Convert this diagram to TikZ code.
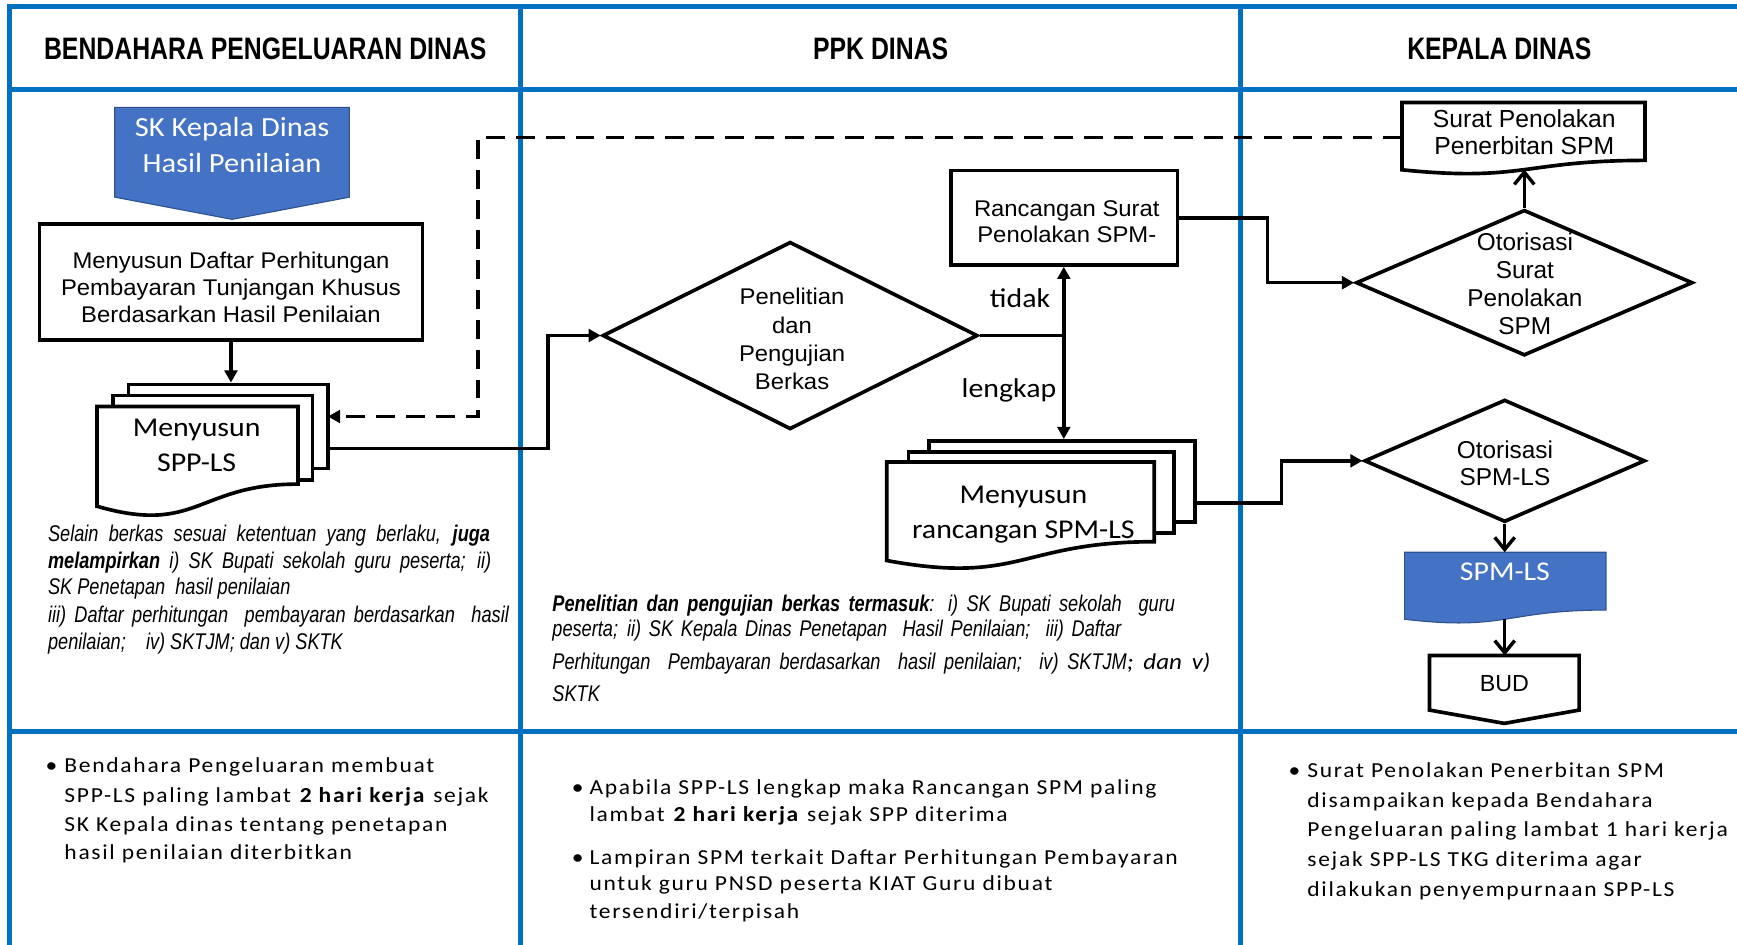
\documentclass[tikz,border=0pt]{standalone}
\usepackage{fontspec}
\setmainfont{Liberation Sans}
\usetikzlibrary{arrows.meta,shapes.geometric}

\newfontfamily\hdrfont[FakeStretch=0.8]{Liberation Sans}
\newfontfamily\boxfont[FakeStretch=1.05]{Liberation Sans}
\newfontfamily\arialfont{Liberation Sans}
\newfontfamily\notefont[FakeStretch=0.8]{Liberation Sans}
\newfontfamily\calfont[FakeStretch=1.1]{Carlito}
\newfontfamily\listfont[FakeStretch=1.1,LetterSpace=8]{Carlito}

\definecolor{laneblue}{HTML}{0070C0}
\definecolor{docblue}{HTML}{4472C4}
\definecolor{docedge}{HTML}{2F528F}

% document symbol: top-left x, top y, right x, y where the wave meets the right side, y where it meets the left side
\newcommand{\docpath}[5]{(#1,#2) -- (#3,#2) -- (#3,#4) .. controls ({(#1+#3)/2},#4) and ({(#1+#3)/2},{#5+1.31*(#5-#4)}) .. (#1,#5) -- cycle}

\begin{document}
\begin{tikzpicture}[x=1pt,y=-1pt,
  lane/.style={draw=laneblue,line width=4.5pt},
  outline/.style={draw=black,line width=3.3pt,fill=white,line join=miter},
  procbox/.style={outline,rectangle,inner sep=0pt},
  decision/.style={outline,diamond,inner sep=0pt},
  pagebox/.style={outline,rectangle,inner sep=0pt},
  flow/.style={draw=black,line width=3.1pt,-{Triangle[length=11pt,width=11.5pt]}},
  flowopen/.style={draw=black,line width=3.1pt,-{Straight Barb[length=11pt,width=18pt]}},
  feedback/.style={draw=black,line width=3.1pt,dash pattern=on 17pt off 10pt,-{Triangle[length=11pt,width=11.5pt]}},
  hdr/.style={inner sep=0pt,font=\hdrfont\bfseries\fontsize{28}{30}\selectfont},
  boxtext/.style={inner sep=0pt,align=center},
  noteline/.style={inner sep=0pt,anchor=base west,font=\notefont\itshape\fontsize{20.5}{24}\selectfont},
  listline/.style={inner sep=0pt,anchor=base west,font=\listfont\fontsize{19.3}{24}\selectfont},
]
\useasboundingbox (0,0) rectangle (1568,853);

% swimlane grid
\begin{scope}
\clip (0,0) rectangle (1568,853);
\draw[lane] (1600,6) -- (9,6) -- (9,880);
\draw[lane] (9,81) -- (1600,81);
\draw[lane] (9,660) -- (1600,660);
\draw[lane] (470,6) -- (470,880);
\draw[lane] (1120,6) -- (1120,880);
\end{scope}

\node[hdr] (h1) at (239.5,44) {BENDAHARA PENGELUARAN DINAS};
\node[hdr] (h2) at (795,44) {PPK DINAS};
\node[hdr] (h3) at (1353.5,44) {KEPALA DINAS};

% ---- Bendahara Pengeluaran Dinas ----
\filldraw[fill=docblue,draw=docedge,line width=1pt] (103.6,96.9) -- (315.4,96.9) -- (315.4,178) -- (209.5,198) -- (103.6,178) -- cycle;
\node[boxtext,text=white,font=\calfont\fontsize{25}{32.5}\selectfont] (skT) at (209.5,131) {SK Kepala Dinas\\Hasil Penilaian};

\node[procbox,minimum width=345.9pt,minimum height=104.8pt] (daftar) at (208.5,254.6) {};
\node[boxtext,font=\boxfont\fontsize{20.5}{24.4}\selectfont] (daftarT) at (208.5,259.5) {Menyusun Daftar Perhitungan\\Pembayaran Tunjangan Khusus\\Berdasarkan Hasil Penilaian};

\node[pagebox,minimum width=180pt,minimum height=76pt] (sppBack) at (206,385) {};
\node[pagebox,minimum width=180pt,minimum height=76pt] (sppMid) at (192,395) {};
\draw[outline] \docpath{87.5}{367}{269}{437}{457};
\node[boxtext,font=\calfont\fontsize{24.5}{31.7}\selectfont] (sppT) at (177.5,402) {Menyusun\\SPP-LS};
\coordinate (sppOut) at (296,404.7);
\coordinate (sppIn) at (296,376);

\node[noteline] (n1a) at (43.2,489) {\makebox[399pt][s]{Selain berkas sesuai ketentuan yang berlaku, \textbf{juga}}};
\node[noteline] (n1b) at (43.2,513) {\makebox[400pt][s]{\textbf{melampirkan} i) SK Bupati sekolah guru peserta; ii)}};
\node[noteline] (n1c) at (43.2,537) {SK Penetapan\ \ hasil penilaian};
\node[noteline] (n1d) at (43.2,562) {\makebox[416pt][s]{iii) Daftar perhitungan\ \ pembayaran berdasarkan\ \ hasil}};
\node[noteline] (n1e) at (43.2,586) {penilaian;\ \ \ \ iv) SKTJM; dan v) SKTK};

% ---- PPK Dinas ----
\node[decision,minimum width=338.6pt,minimum height=169.3pt] (check) at (713.3,302.9) {};
\node[boxtext,font=\boxfont\fontsize{20.5}{25.4}\selectfont] (checkT) at (715,306) {Penelitian\\dan\\Pengujian\\Berkas};

\node[procbox,minimum width=204.6pt,minimum height=85.2pt] (draft) at (960.7,196.6) {};
\node[boxtext,font=\boxfont\fontsize{20.5}{23.4}\selectfont] (draftT) at (963,200) {Rancangan Surat\\Penolakan SPM-};

\node[pagebox,minimum width=240.4pt,minimum height=73pt] (mdocBack) at (958.8,434.5) {};
\node[pagebox,minimum width=240pt,minimum height=73pt] (mdocMid) at (940,444.5) {};
\draw[outline] \docpath{800.5}{417}{1042}{489}{506};
\node[boxtext,font=\calfont\fontsize{24.5}{31}\selectfont] (mdocT) at (923.8,464.5) {Menyusun\\rancangan SPM-LS};
\coordinate (mdocOut) at (1079,454);

\coordinate (split) at (960.3,302.9);
\node[inner sep=0pt,font=\calfont\fontsize{24.5}{26}\selectfont] (tidak) at (920.8,269.3) {tidak};
\node[inner sep=0pt,font=\calfont\fontsize{24.5}{26}\selectfont] (lengkap) at (910.8,352) {lengkap};

\node[noteline] (n2a) at (498.5,552) {\makebox[562pt][s]{\textbf{Penelitian dan pengujian berkas termasuk}: i) SK Bupati sekolah\ \ guru}};
\node[noteline] (n2b) at (498.5,575) {\makebox[513.5pt][s]{peserta; ii) SK Kepala Dinas Penetapan\ \ Hasil Penilaian;\ \ iii) Daftar}};
\node[noteline] (n2c) at (498.5,604) {\makebox[594pt][s]{Perhitungan\ \ Pembayaran berdasarkan\ \ hasil penilaian;\ \ iv) SKTJM{\calfont\itshape\fontsize{20.5}{24}\selectfont; dan v)}}};
\node[noteline] (n2d) at (498.5,633) {SKTK};

% ---- Kepala Dinas ----
\draw[outline] \docpath{1265.6}{92.5}{1485}{144.8}{153.3};
\node[boxtext,font=\arialfont\fontsize{22.3}{24.5}\selectfont] (suratT) at (1376,119.5) {Surat Penolakan\\Penerbitan SPM};
\coordinate (suratL) at (1265.6,124);
\coordinate (suratB) at (1376,153);

\node[decision,minimum width=304pt,minimum height=131.6pt] (otorA) at (1376,255.2) {};
\node[boxtext,font=\arialfont\fontsize{22}{25.4}\selectfont] (otorAT) at (1376.5,256) {Otorisasi\\Surat\\Penolakan\\SPM};

\node[decision,minimum width=253.4pt,minimum height=110.5pt] (otorB) at (1358.3,416) {};
\node[boxtext,font=\arialfont\fontsize{22}{24.7}\selectfont] (otorBT) at (1358.5,418) {Otorisasi\\SPM-LS};

\filldraw[fill=docblue,draw=docedge,line width=1pt] \docpath{1268}{498.5}{1449.7}{550.7}{559};
\node[inner sep=0pt,text=white,font=\calfont\fontsize{24.5}{26}\selectfont] (spmT) at (1358.5,516) {SPM-LS};
\coordinate (spmTop) at (1358.3,498.5);
\coordinate (spmBot) at (1358.3,558.9);

\draw[outline] (1290.4,591.7) -- (1425.5,591.7) -- (1425.5,641) -- (1358,653) -- (1290.4,641) -- cycle;
\node[inner sep=0pt,font=\arialfont\fontsize{21}{24}\selectfont] (bud) at (1358,617) {BUD};
\coordinate (budTop) at (1358.3,591.7);

% ---- connectors ----
\draw[flow] (daftar.south) -- (daftar.south |- sppBack.north);
\draw[flow] (sppOut) -- (494.6,404.7) |- (check.west);
\draw[line width=3.1pt] (check.east) -- (split);
\draw[flow] (split) -- (split |- draft.south);
\draw[flow] (split) -- (split |- mdocBack.north);
\draw[flow] (draft.east) -- (1144,196.6) |- (otorA.west);
\draw[flow] (mdocOut) -- (1157,454) |- (otorB.west);
\draw[flowopen] (otorA.north) -- (suratB);
\draw[flowopen] (otorB.south) -- (spmTop);
\draw[flowopen] (spmBot) -- (budTop);
\draw[feedback] (suratL) -- (431.3,124) |- (sppIn);

% ---- notes under the lanes ----
\node[listline] (b1) at (41,697) {•};
\node[listline] (l1a) at (58,697) {Bendahara Pengeluaran membuat};
\node[listline] (l1b) at (58,724) {SPP-LS paling lambat \textbf{2 hari kerja} sejak};
\node[listline] (l1c) at (58,751) {SK Kepala dinas tentang penetapan};
\node[listline] (l1d) at (58,776) {hasil penilaian diterbitkan};

\node[listline] (b2) at (516,717) {•};
\node[listline] (l2a) at (532,717) {Apabila SPP-LS lengkap maka Rancangan SPM paling};
\node[listline] (l2b) at (532,742) {lambat \textbf{2 hari kerja} sejak SPP diterima};
\node[listline] (b3) at (516,780) {•};
\node[listline] (l2c) at (532,780) {Lampiran SPM terkait Daftar Perhitungan Pembayaran};
\node[listline] (l2d) at (532,804) {untuk guru PNSD peserta KIAT Guru dibuat};
\node[listline] (l2e) at (532,829) {tersendiri/terpisah};

\node[listline] (b4) at (1163,702) {•};
\node[listline] (l3a) at (1180,702) {Surat Penolakan Penerbitan SPM};
\node[listline] (l3b) at (1180,729) {disampaikan kepada Bendahara};
\node[listline] (l3c) at (1180,755) {Pengeluaran paling lambat 1 hari kerja};
\node[listline] (l3d) at (1180,782) {sejak SPP-LS TKG diterima agar};
\node[listline] (l3e) at (1180,809) {dilakukan penyempurnaan SPP-LS};
\end{tikzpicture}
\end{document}
